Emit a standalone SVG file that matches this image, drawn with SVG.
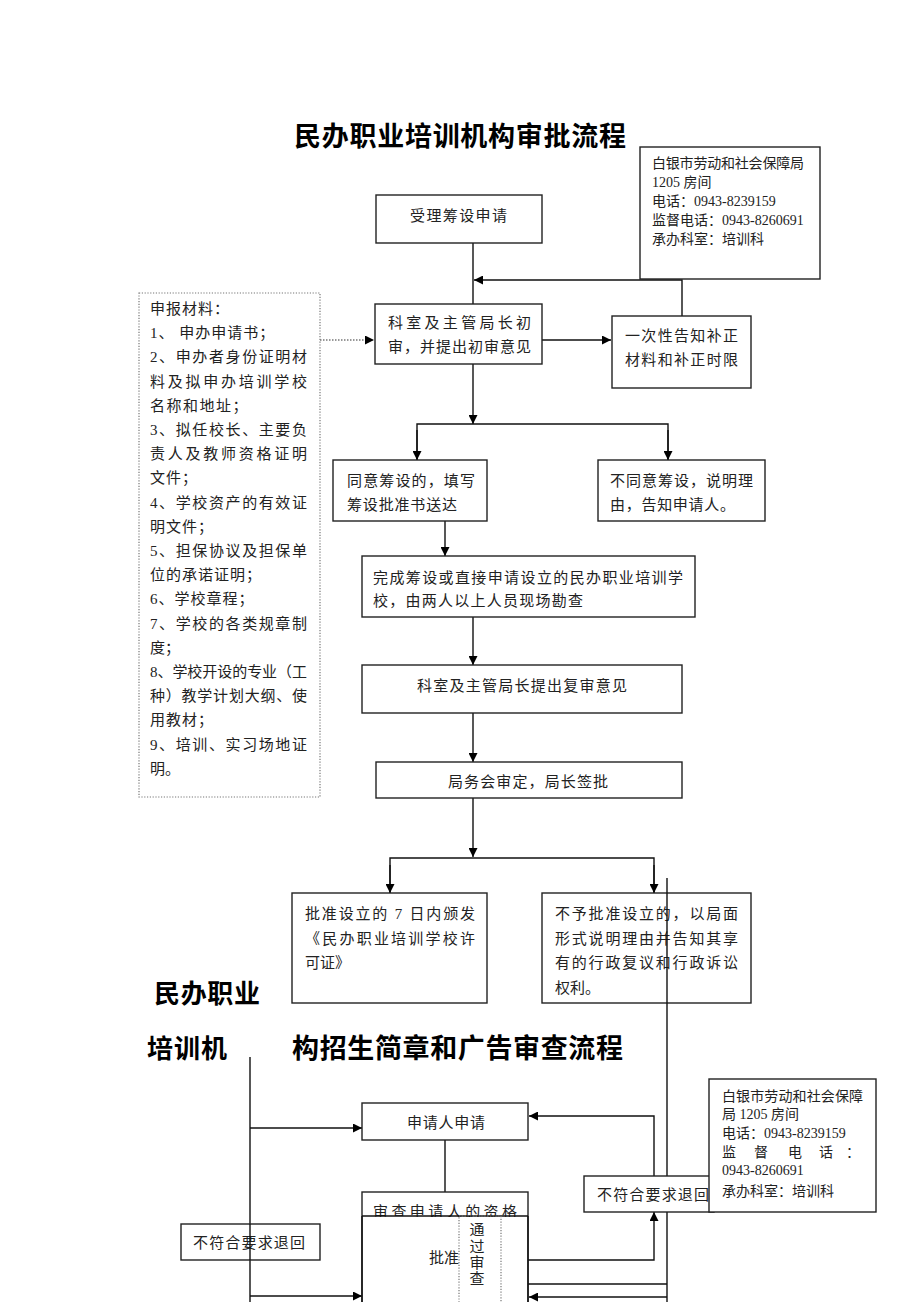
<svg xmlns="http://www.w3.org/2000/svg" width="920" height="1302" viewBox="0 0 920 1302">
<style>
.box{fill:#fff;stroke:#222;stroke-width:1.4}
.t{font-family:"Liberation Serif","Noto Sans CJK SC",serif;font-size:15px;fill:#222}
.s{font-family:"Liberation Serif","Noto Sans CJK SC",serif;font-size:14px;fill:#222}
.h{font-family:"Noto Sans CJK SC",sans-serif;font-weight:bold;fill:#000}
.ln{fill:none;stroke:#111;stroke-width:1.4}
.dot{fill:none;stroke:#777;stroke-width:1.2;stroke-dasharray:1.2 1.6}
</style>
<defs>
<marker id="ar" viewBox="0 0 10 10" refX="10" refY="5" markerWidth="9" markerHeight="9" markerUnits="userSpaceOnUse" orient="auto">
<path d="M0,0 L10,5 L0,10 z" fill="#000"/>
</marker>
</defs>
<rect width="920" height="1302" fill="#fff"/>

<text class="h" x="294" y="146" font-size="27" textLength="332">民办职业培训机构审批流程</text>
<text class="h" x="154" y="1003" font-size="26" textLength="106">民办职业</text>
<text class="h" x="147" y="1058" font-size="26" textLength="80">培训机</text>
<text class="h" x="292" y="1058" font-size="27" textLength="331">构招生简章和广告审查流程</text>

<g id="connectors">
<line class="ln" x1="473" y1="243" x2="473" y2="304"/>
<polyline class="ln" points="682,316 682,280 474,280" marker-end="url(#ar)"/>
<line x1="320" y1="340" x2="374" y2="340" stroke="#777" stroke-width="1.3" stroke-dasharray="1.5 1.5" marker-end="url(#ar)"/>
<line class="ln" x1="542" y1="340" x2="611" y2="340" marker-end="url(#ar)"/>
<line class="ln" x1="473" y1="364" x2="473" y2="424" marker-end="url(#ar)"/>
<polyline class="ln" points="417,460 417,424 668,424 668,460"/>
<line class="ln" x1="417" y1="430" x2="417" y2="460" marker-end="url(#ar)"/>
<line class="ln" x1="668" y1="430" x2="668" y2="460" marker-end="url(#ar)"/>
<line class="ln" x1="445" y1="521" x2="445" y2="556" marker-end="url(#ar)"/>
<line class="ln" x1="473" y1="617" x2="473" y2="665" marker-end="url(#ar)"/>
<line class="ln" x1="473" y1="713" x2="473" y2="762" marker-end="url(#ar)"/>
<line class="ln" x1="473" y1="798" x2="473" y2="857" marker-end="url(#ar)"/>
<polyline class="ln" points="390,893 390,858 654,858 654,893"/>
<line class="ln" x1="390" y1="865" x2="390" y2="893" marker-end="url(#ar)"/>
<line class="ln" x1="654" y1="865" x2="654" y2="893" marker-end="url(#ar)"/>
<line class="ln" x1="250" y1="1057" x2="250" y2="1302"/>
<line class="ln" x1="250" y1="1128" x2="362" y2="1128" marker-end="url(#ar)"/>
<line class="ln" x1="250" y1="1296" x2="362" y2="1296" marker-end="url(#ar)"/>
<line class="ln" x1="445" y1="1140" x2="445" y2="1216"/>
<polyline class="ln" points="654,1176 654,1116 529,1116" marker-end="url(#ar)"/>
<polyline class="ln" points="528,1260 654,1260 654,1212" marker-end="url(#ar)"/>
<line class="ln" x1="528" y1="1284" x2="667" y2="1284"/>
<line class="ln" x1="667" y1="1297" x2="529" y2="1297" marker-end="url(#ar)"/>
</g>

<g id="contact1">
<rect class="box" x="640" y="147" width="180" height="132"/>
<text class="s" x="652" y="168" textLength="152">白银市劳动和社会保障局</text>
<text class="s" x="652" y="187">1205 房间</text>
<text class="s" x="652" y="206">电话：0943-8239159</text>
<text class="s" x="652" y="225">监督电话：0943-8260691</text>
<text class="s" x="652" y="244">承办科室：培训科</text>
</g>

<g id="n1">
<rect class="box" x="376" y="195" width="166" height="48"/>
<text class="t" x="410" y="221" textLength="97">受理筹设申请</text>
</g>

<g id="materials">
<rect class="dot" x="139" y="293" width="181" height="504"/>
<text class="t" x="150" y="314" letter-spacing="1">申报材料：</text>
<text class="t" x="150" y="338.2" letter-spacing="1">1、 申办申请书；</text>
<text class="t" x="150" y="362.4" textLength="157">2、申办者身份证明材</text>
<text class="t" x="150" y="386.6" textLength="157">料及拟申办培训学校</text>
<text class="t" x="150" y="410.8" letter-spacing="1.5">名称和地址；</text>
<text class="t" x="150" y="435" textLength="157">3、拟任校长、主要负</text>
<text class="t" x="150" y="459.2" textLength="157">责人及教师资格证明</text>
<text class="t" x="150" y="483.4" letter-spacing="1">文件；</text>
<text class="t" x="150" y="507.6" textLength="157">4、学校资产的有效证</text>
<text class="t" x="150" y="531.8" letter-spacing="1">明文件；</text>
<text class="t" x="150" y="556" textLength="157">5、担保协议及担保单</text>
<text class="t" x="150" y="580.2" letter-spacing="1">位的承诺证明；</text>
<text class="t" x="150" y="604.4" letter-spacing="1">6、学校章程；</text>
<text class="t" x="150" y="628.6" textLength="157">7、学校的各类规章制</text>
<text class="t" x="150" y="652.8">度；</text>
<text class="t" x="150" y="677" textLength="157">8、学校开设的专业（工</text>
<text class="t" x="150" y="701.2" textLength="157">种）教学计划大纲、使</text>
<text class="t" x="150" y="725.4" letter-spacing="1">用教材；</text>
<text class="t" x="150" y="749.6" textLength="157">9、培训、实习场地证</text>
<text class="t" x="150" y="773.8">明。</text>
</g>

<g id="n2">
<rect class="box" x="375" y="304" width="167" height="60"/>
<text class="t" x="388" y="328" textLength="143">科室及主管局长初</text>
<text class="t" x="388" y="352" textLength="143">审，并提出初审意见</text>
</g>

<g id="n3">
<rect class="box" x="612" y="316" width="139" height="72"/>
<text class="t" x="625" y="341" textLength="113">一次性告知补正</text>
<text class="t" x="625" y="365" textLength="113">材料和补正时限</text>
</g>

<g id="n4">
<rect class="box" x="333" y="460" width="154" height="61"/>
<text class="t" x="347" y="486" textLength="128">同意筹设的，填写</text>
<text class="t" x="347" y="510" textLength="110">筹设批准书送达</text>
</g>

<g id="n5">
<rect class="box" x="598" y="460" width="167" height="61"/>
<text class="t" x="610" y="486" textLength="143">不同意筹设，说明理</text>
<text class="t" x="610" y="510" textLength="125">由，告知申请人。</text>
</g>

<g id="n6">
<rect class="box" x="362" y="556" width="333" height="61"/>
<text class="t" x="373" y="583" textLength="310">完成筹设或直接申请设立的民办职业培训学</text>
<text class="t" x="373" y="606" textLength="210">校，由两人以上人员现场勘查</text>
</g>

<g id="n7">
<rect class="box" x="362" y="665" width="320" height="48"/>
<text class="t" x="417" y="691" textLength="210">科室及主管局长提出复审意见</text>
</g>

<g id="n8">
<rect class="box" x="376" y="762" width="306" height="36"/>
<text class="t" x="448" y="787" textLength="160">局务会审定，局长签批</text>
</g>

<g id="n9">
<rect class="box" x="292" y="893" width="195" height="110"/>
<text class="t" x="305" y="919" textLength="170">批准设立的 7 日内颁发</text>
<text class="t" x="305" y="944" textLength="170">《民办职业培训学校许</text>
<text class="t" x="305" y="968">可证》</text>
</g>

<g id="n10">
<rect class="box" x="542" y="893" width="209" height="110"/>
<text class="t" x="555" y="919" textLength="183">不予批准设立的，以局面</text>
<text class="t" x="555" y="944" textLength="183">形式说明理由并告知其享</text>
<text class="t" x="555" y="968" textLength="183">有的行政复议和行政诉讼</text>
<text class="t" x="555" y="993">权利。</text>
</g>

<line class="ln" x1="667" y1="878" x2="667" y2="1302"/>

<g id="m1">
<rect class="box" x="362" y="1103" width="166" height="37"/>
<text class="t" x="407" y="1128" textLength="78">申请人申请</text>
</g>

<g id="m2">
<rect class="box" x="584" y="1176" width="130" height="36"/>
<text class="t" x="597" y="1200" textLength="112">不符合要求退回</text>
</g>

<g id="contact2">
<rect class="box" x="709" y="1079" width="167" height="133"/>
<text class="s" x="722" y="1101" textLength="141">白银市劳动和社会保障</text>
<text class="s" x="722" y="1119">局 1205 房间</text>
<text class="s" x="722" y="1138">电话：0943-8239159</text>
<text class="s" x="722 754 788 819 846" y="1157">监督电话：</text>
<text class="s" x="722" y="1175">0943-8260691</text>
<text class="s" x="722" y="1196">承办科室：培训科</text>
</g>

<g id="m3">
<rect class="box" x="362" y="1192" width="166" height="112"/>
<text class="t" x="373" y="1217" textLength="144">审查申请人的资格</text>
<rect x="363" y="1217" width="164" height="86" fill="#fff"/>
<line class="ln" x1="362" y1="1216" x2="528" y2="1216"/>
<line class="ln" x1="528" y1="1216" x2="528" y2="1302"/>
<line class="ln" x1="362" y1="1216" x2="362" y2="1302"/>
<text class="t" x="429" y="1263" font-size="14.5">批准</text>
<rect class="dot" x="459" y="1216" width="42" height="88"/>
<text class="t" x="477" y="1235" text-anchor="middle">通</text>
<text class="t" x="477" y="1252" text-anchor="middle">过</text>
<text class="t" x="477" y="1268" text-anchor="middle">审</text>
<text class="t" x="477" y="1284" text-anchor="middle">查</text>
</g>

<g id="m4">
<rect class="box" x="181" y="1224" width="139" height="36"/>
<text class="t" x="193" y="1248" textLength="112">不符合要求退回</text>
</g>
<line class="ln" x1="250" y1="1224" x2="250" y2="1260"/>
</svg>
